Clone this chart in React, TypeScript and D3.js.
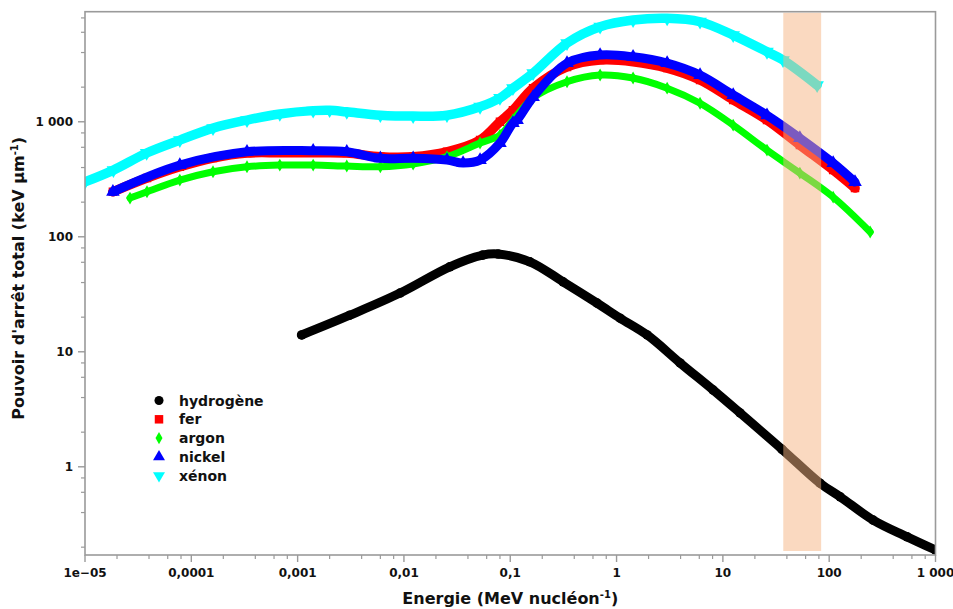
import React from "react";
import * as d3 from "d3";

// ---- data ----
const hydrogeneE = [0.00109, 0.0031, 0.0092, 0.027, 0.055, 0.077, 0.153, 0.314, 0.656, 1.08, 1.94, 3.96, 8.1, 14.5, 36, 82, 127, 259, 541, 1000];
const hydrogeneS = [14.0, 20.8, 32.4, 54.8, 69.3, 70.8, 60.6, 40.6, 26.5, 19.6, 14.0, 8.0, 4.65, 2.94, 1.42, 0.72, 0.548, 0.344, 0.246, 0.189];

const ferE = [1.83e-5, 3.83e-5, 7.8e-5, 1.6e-4, 3.34e-4, 6.8e-4, 1.4e-3, 2.9e-3, 6.0e-3, 0.0122, 0.0254, 0.052, 0.08, 0.106, 0.164, 0.342, 0.7, 1.43, 2.99, 6.1, 12.5, 26, 53, 109, 175];
const ferS = [246, 324, 406, 484, 535, 538, 538, 535, 497, 497, 548, 693, 1000, 1260, 1960, 3000, 3440, 3330, 2930, 2310, 1550, 1035, 627, 380, 265];

const argonE = [2.65e-5, 3.83e-5, 7.8e-5, 1.6e-4, 3.34e-4, 6.8e-4, 1.4e-3, 2.9e-3, 6.0e-3, 0.0122, 0.0254, 0.052, 0.08, 0.106, 0.164, 0.342, 0.7, 1.43, 2.99, 6.1, 12.5, 26, 53, 109, 243];
const argonS = [217, 246, 311, 368, 406, 420, 420, 412, 406, 429, 497, 653, 766, 1035, 1610, 2230, 2550, 2400, 1960, 1450, 935, 567, 358, 221, 110];

const nickelE = [1.83e-5, 7.8e-5, 3.34e-4, 1.4e-3, 2.9e-3, 6.0e-3, 0.0122, 0.0254, 0.036, 0.052, 0.08, 0.106, 0.116, 0.164, 0.342, 0.7, 1.43, 2.99, 6.1, 12.5, 26, 53, 109, 175];
const nickelS = [246, 420, 548, 560, 548, 481, 481, 464, 438, 464, 653, 975, 1035, 1640, 3240, 3800, 3670, 3240, 2550, 1710, 1140, 722, 438, 299];

const xenonE = [1.0e-5, 1.85e-5, 3.8e-5, 7.8e-5, 1.6e-4, 3.34e-4, 6.8e-4, 1.4e-3, 2.0e-3, 2.9e-3, 6.0e-3, 0.0122, 0.0254, 0.052, 0.08, 0.106, 0.164, 0.342, 0.7, 1.43, 2.99, 6.1, 12.5, 26, 36.8, 77];
const xenonS = [300, 380, 535, 693, 881, 1035, 1170, 1250, 1260, 1220, 1140, 1120, 1140, 1350, 1610, 1960, 2650, 4830, 6700, 7660, 7930, 7410, 5670, 4060, 3440, 2080];

const seriesNames = ["hydrogène", "fer", "argon", "nickel", "xénon"];
const seriesColors = ["#000000", "#ff0000", "#00ff00", "#0000ff", "#00ffff"];

const xMajorTicks = [1e-5, 1e-4, 1e-3, 1e-2, 1e-1, 1, 10, 100, 1000];
const xTickLabels = ["1e\u221205", "0,0001", "0,001", "0,01", "0,1", "1", "10", "100", "1 000"];
const yMajorTicks = [1, 10, 100, 1000];
const yTickLabels = ["1", "10", "100", "1 000"];

const bandRange = [37, 84];

// ---- layout ----
const W = 953;
const H = 609;
const left = 85;
const right = 935.5;
const top = 11.7;
const bottom = 555;

const x = d3.scaleLog().domain([1e-5, 1000]).range([left, right]);
const y = d3.scaleLog().domain([0.171, 9060]).range([bottom, top]);

const minorMult = [2, 4, 6, 8];
const xMinor: number[] = [];
for (let e = -5; e < 3; e++) minorMult.forEach((m) => xMinor.push(m * Math.pow(10, e)));
const yMinor: number[] = [];
for (let e = -1; e < 4; e++)
  minorMult.forEach((m) => {
    const v = m * Math.pow(10, e);
    if (v >= 0.171 && v <= 9060) yMinor.push(v);
  });

const symbolTypes = [d3.symbolCircle, d3.symbolSquare, d3.symbolDiamond, d3.symbolTriangle, d3.symbolTriangle];
const symbolSizes = [72, 72, 48, 80, 80];
const legendSizes = [64, 72, 42, 62, 62];
const rotations = [0, 0, 0, 0, 180];
const lineWidths = [9, 9.5, 7, 9, 9.5];

const allSeries = [
  { E: hydrogeneE, S: hydrogeneS },
  { E: ferE, S: ferS },
  { E: argonE, S: argonS },
  { E: nickelE, S: nickelS },
  { E: xenonE, S: xenonS },
];

const lineGen = d3
  .line<[number, number]>()
  .x((d) => x(d[0]))
  .y((d) => y(d[1]))
  .curve(d3.curveCatmullRom.alpha(0.5));

const font = "'DejaVu Sans', Verdana, sans-serif";
const axisColor = "#9a9a9a";

export default function App() {
  return (
    <svg
      width={W}
      height={H}
      style={{ position: "absolute", left: 0, top: 0, background: "#fff" }}
      fontFamily={font}
    >
      <rect x={0} y={0} width={W} height={H} fill="#fff" />
      <defs>
        <clipPath id="plotclip">
          <rect x={left} y={top} width={right - left} height={bottom - top} />
        </clipPath>
      </defs>

      {/* series */}
      <g clipPath="url(#plotclip)">
        {allSeries.map((s, i) => {
          const pts = s.E.map((e, k) => [e, s.S[k]] as [number, number]);
          const sym = d3.symbol().type(symbolTypes[i]).size(symbolSizes[i])();
          return (
            <g key={i}>
              <path
                d={lineGen(pts) || ""}
                fill="none"
                stroke={seriesColors[i]}
                strokeWidth={lineWidths[i]}
                strokeLinecap="round"
                strokeLinejoin="round"
              />
              {pts.map((p, k) => (
                <path
                  key={k}
                  d={sym || ""}
                  transform={`translate(${x(p[0])},${y(p[1])}) rotate(${rotations[i]})`}
                  fill={seriesColors[i]}
                />
              ))}
            </g>
          );
        })}
      </g>

      {/* highlighted band */}
      <rect
        x={x(bandRange[0])}
        y={top + 1}
        width={x(bandRange[1]) - x(bandRange[0])}
        height={bottom - 4 - top - 1}
        fill="#f5b482"
        fillOpacity={0.5}
      />

      {/* frame */}
      <rect x={left} y={top} width={right - left} height={bottom - top} fill="none" stroke={axisColor} strokeWidth={1.6} />

      {/* x ticks */}
      {xMajorTicks.map((t, i) => (
        <g key={"xm" + i}>
          <line x1={x(t)} x2={x(t)} y1={bottom} y2={bottom + 7} stroke={axisColor} strokeWidth={1.4} />
          <text x={x(t)} y={bottom + 22} textAnchor="middle" fontSize={12} fontWeight="bold" fill="#111">
            {xTickLabels[i]}
          </text>
        </g>
      ))}
      {xMinor.map((t, i) => (
        <line key={"xn" + i} x1={x(t)} x2={x(t)} y1={bottom} y2={bottom + 4} stroke={axisColor} strokeWidth={1.2} />
      ))}

      {/* y ticks */}
      {yMajorTicks.map((t, i) => (
        <g key={"ym" + i}>
          <line x1={left - 7} x2={left} y1={y(t)} y2={y(t)} stroke={axisColor} strokeWidth={1.4} />
          <text x={left - 12} y={y(t)} dy="0.36em" textAnchor="end" fontSize={12} fontWeight="bold" fill="#111">
            {yTickLabels[i]}
          </text>
        </g>
      ))}
      {yMinor.map((t, i) => (
        <line key={"yn" + i} x1={left - 4} x2={left} y1={y(t)} y2={y(t)} stroke={axisColor} strokeWidth={1.2} />
      ))}

      {/* axis titles */}
      <text x={(left + right) / 2} y={604} textAnchor="middle" fontSize={16} fontWeight="bold" fill="#111">
        Energie (MeV nucléon
        <tspan dy={-6} fontSize={10}>-1</tspan>
        <tspan dy={6}>)</tspan>
      </text>
      <text
        transform={`translate(24,${(top + bottom) / 2 - 5}) rotate(-90)`}
        textAnchor="middle"
        fontSize={16}
        fontWeight="bold"
        fill="#111"
      >
        Pouvoir d'arrêt total (keV µm
        <tspan dy={-6} fontSize={10}>-1</tspan>
        <tspan dy={6}>)</tspan>
      </text>

      {/* legend */}
      {seriesNames.map((name, i) => {
        const ly = 400.5 + i * 18.8;
        const sym = d3.symbol().type(symbolTypes[i]).size(legendSizes[i])();
        return (
          <g key={"lg" + i}>
            <path d={sym || ""} transform={`translate(159,${ly}) rotate(${rotations[i]})`} fill={seriesColors[i]} />
            <text x={179} y={ly} dy="0.36em" fontSize={14} fontWeight="bold" fill="#111">
              {name}
            </text>
          </g>
        );
      })}
    </svg>
  );
}
